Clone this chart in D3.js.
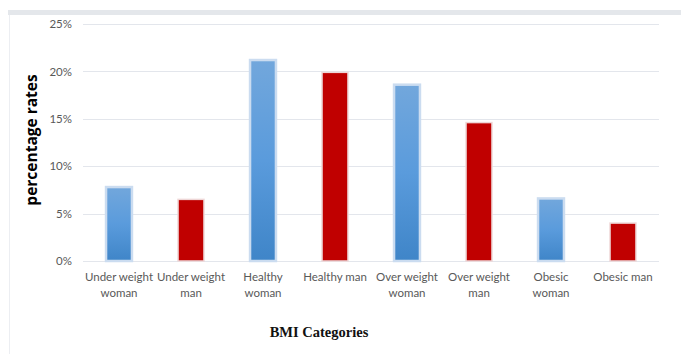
<!DOCTYPE html>
<html lang="en">
    <head>
        <meta charset="UTF-8">
        <title>BMI Categories</title>
        <style>
            body {
                margin: 0;
                background-color: #ffffff;
            }
            .tick text {
                font-family: Lato, 'Open Sans', sans-serif;
                fill: #595959;
            }
            .grid line {
                stroke: #e3e6ec;
                stroke-width: 1px;
            }
        </style>
    </head>
    <body>
        <div id="chart"></div>
        <script src="https://d3js.org/d3.v7.min.js"></script>
        <script>
            // data
            const categories = ["Under weight woman", "Under weight man", "Healthy woman", "Healthy man",
                "Over weight woman", "Over weight man", "Obesic woman", "Obesic man"];
            const labelLines = [["Under weight", "woman"], ["Under weight", "man"], ["Healthy", "woman"], ["Healthy man"],
                ["Over weight", "woman"], ["Over weight", "man"], ["Obesic", "woman"], ["Obesic man"]];
            const rates = [7.8, 6.5, 21.2, 19.9, 18.6, 14.6, 6.6, 4.0];
            const sex = ["woman", "man", "woman", "man", "woman", "man", "woman", "man"];
            const yTicks = [0, 5, 10, 15, 20, 25];

            const width = 681;
            const height = 354;
            const plotLeft = 83, plotRight = 659, plotTop = 24, plotBottom = 261;

            const svg = d3.select("#chart").append("svg")
                .attr("width", width)
                .attr("height", height);

            // frame bits
            svg.append("rect").attr("x", 8).attr("y", 10).attr("width", width - 8).attr("height", 5).attr("fill", "#e4e7eb");
            svg.append("line").attr("x1", 9.5).attr("x2", 9.5).attr("y1", 15).attr("y2", height)
                .attr("stroke", "#eceef2");

            const defs = svg.append("defs");
            const grad = defs.append("linearGradient").attr("id", "blueGrad")
                .attr("x1", 0).attr("y1", 0).attr("x2", 0).attr("y2", 1);
            grad.append("stop").attr("offset", "0%").attr("stop-color", "#72a7dc");
            grad.append("stop").attr("offset", "50%").attr("stop-color", "#5a9bdc");
            grad.append("stop").attr("offset", "100%").attr("stop-color", "#3f85c8");

            const x = d3.scaleBand().domain(categories).range([plotLeft, plotRight]).paddingInner(0.64).paddingOuter(0.32);
            const y = d3.scaleLinear().domain([0, 25]).range([plotBottom, plotTop]);

            // gridlines
            svg.append("g").attr("class", "grid")
                .selectAll("line").data(yTicks).enter().append("line")
                .attr("x1", plotLeft).attr("x2", plotRight)
                .attr("y1", d => Math.round(y(d)) + 0.5)
                .attr("y2", d => Math.round(y(d)) + 0.5);

            // y axis
            const yAxis = svg.append("g")
                .attr("transform", "translate(78,0)")
                .call(d3.axisLeft(y).tickValues(yTicks).tickFormat(d => d + "%").tickSize(0).tickPadding(6));
            yAxis.select(".domain").remove();
            yAxis.selectAll("text").style("font-size", "11.5px");

            // bars
            svg.append("g").selectAll("rect").data(categories).enter().append("rect")
                .attr("x", d => x(d))
                .attr("y", (d, i) => y(rates[i]))
                .attr("width", x.bandwidth())
                .attr("height", (d, i) => y(0) - y(rates[i]))
                .attr("fill", (d, i) => sex[i] === "woman" ? "url(#blueGrad)" : "#c00000")
                .attr("stroke", (d, i) => sex[i] === "woman" ? "#cbdcf0" : "#eed6d6")
                .attr("stroke-width", (d, i) => sex[i] === "woman" ? 2.5 : 1.5);

            // x labels
            const xl = svg.append("g").selectAll("text").data(categories).enter().append("text")
                .attr("x", d => x(d) + x.bandwidth() / 2)
                .attr("y", 281)
                .attr("text-anchor", "middle")
                .style("font-family", "Lato, 'Open Sans', sans-serif")
                .style("font-size", "11.5px")
                .attr("fill", "#595959");
            xl.each(function(d, i) {
                const t = d3.select(this);
                labelLines[i].forEach((ln, k) => {
                    t.append("tspan").attr("x", x(d) + x.bandwidth() / 2).attr("dy", k === 0 ? 0 : 16).text(ln);
                });
            });

            // axis titles
            svg.append("text")
                .attr("transform", "translate(37,140) rotate(-90)")
                .attr("text-anchor", "middle")
                .style("font-family", "'Open Sans', sans-serif")
                .style("font-weight", "bold")
                .style("font-size", "15.5px")
                .attr("fill", "#000")
                .text("percentage rates");

            svg.append("text")
                .attr("x", 319).attr("y", 337)
                .attr("text-anchor", "middle")
                .style("font-family", "'Liberation Serif', serif")
                .style("font-weight", "bold")
                .style("font-size", "14.5px")
                .attr("fill", "#111")
                .text("BMI Categories");
        </script>
    </body>
</html>
